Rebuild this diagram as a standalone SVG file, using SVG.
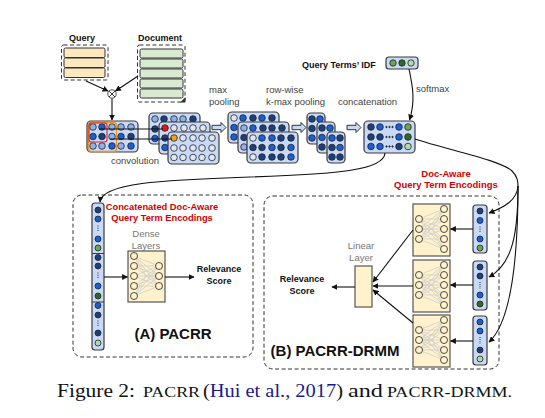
<svg xmlns="http://www.w3.org/2000/svg" xmlns:xlink="http://www.w3.org/1999/xlink" width="545" height="418" viewBox="0 0 545 418">
<style>
text{font-family:"Liberation Sans",Arial,sans-serif}
.lb{font-size:9px;font-weight:bold;fill:#111}
.gr{font-size:9.5px;fill:#444}
.gl{font-size:9.5px;fill:#777}
.red{font-size:9.3px;font-weight:bold;fill:#d40000}
.big{font-size:15px;font-weight:bold;fill:#111}
.cap{font-family:"Liberation Serif","Times New Roman",serif;font-size:18px;fill:#111}
.box{fill:#c9daf8;stroke:#3a3a3a;stroke-width:1.2}
.dash{fill:none;stroke:#333;stroke-width:1;stroke-dasharray:4,2.5}
.nb{fill:#fff2cc;stroke:#555;stroke-width:1.2}
circle{stroke:#222;stroke-width:0.8}
.cd{fill:#1c3f7e}.cb{fill:#1a5fd6}.cl{fill:#8fb1ea}.cp{fill:#dde7f8}
.g1{fill:#6aa84f}.g2{fill:#2f6b1c}.g3{fill:#b6d7a8}
.rd{fill:#ee1111}.or{fill:#f4a018}
.conn{fill:none;stroke:#111;stroke-width:1.1}
.blk{fill:#c9daf8;stroke:#333;stroke-width:1}
.dot{fill:#222;stroke:none}
</style>
<defs>
<marker id="ah" viewBox="0 0 10 10" refX="9" refY="5" markerWidth="6" markerHeight="6" markerUnits="userSpaceOnUse" orient="auto"><path d="M0,0 L10,5 L0,10 z" fill="#111"/></marker>
<g id="net" fill="none" stroke="#cdcdcd" stroke-width="0.8">
<path d="M6,5L31,15M6,5L31,25M6,5L31,35M6,15L31,15M6,15L31,25M6,15L31,35M6,25L31,15M6,25L31,25M6,25L31,35M6,35L31,15M6,35L31,25M6,35L31,35M6,45L31,15M6,45L31,25M6,45L31,35M6,5L18,25M6,45L18,25M18,25L31,25"/>
<circle cx="6" cy="5" r="3.5" stroke="#c8c8c8" fill="#fff2cc"/><circle cx="6" cy="15" r="3.5" stroke="#c8c8c8" fill="#fff2cc"/><circle cx="6" cy="25" r="3.5" stroke="#c8c8c8" fill="#fff2cc"/><circle cx="6" cy="35" r="3.5" stroke="#c8c8c8" fill="#fff2cc"/><circle cx="6" cy="45" r="3.5" stroke="#c8c8c8" fill="#fff2cc"/>
<circle cx="31" cy="15" r="3.5" stroke="#c8c8c8" fill="#fff2cc"/><circle cx="31" cy="25" r="3.5" stroke="#c8c8c8" fill="#fff2cc"/><circle cx="31" cy="35" r="3.5" stroke="#c8c8c8" fill="#fff2cc"/>
</g>
<polygon id="barrow" points="0,-2.2 9,-2.2 9,-5 14,0 9,5 9,2.2 0,2.2"/>
</defs>

<g id="query">
<text class="lb" x="82" y="41" text-anchor="middle">Query</text>
<rect class="dash" x="61.5" y="45" width="46.5" height="35" rx="2"/>
<rect x="64" y="48" width="41" height="9.5" fill="#fde9bf" stroke="#333" stroke-width="1" rx="1.5"/>
<rect x="64" y="58" width="41" height="9.5" fill="#fde9bf" stroke="#333" stroke-width="1" rx="1.5"/>
<rect x="64" y="68" width="41" height="9.5" fill="#fde9bf" stroke="#333" stroke-width="1" rx="1.5"/>
</g>

<g id="document">
<text class="lb" x="160" y="41" text-anchor="middle">Document</text>
<rect class="dash" x="137.5" y="45" width="47.5" height="57" rx="2"/>
<rect x="140" y="49" width="43" height="9" fill="#d9ead3" stroke="#333" stroke-width="1" rx="1.5"/>
<rect x="140" y="59" width="43" height="9" fill="#d9ead3" stroke="#333" stroke-width="1" rx="1.5"/>
<rect x="140" y="69" width="43" height="9" fill="#d9ead3" stroke="#333" stroke-width="1" rx="1.5"/>
<rect x="140" y="79" width="43" height="9" fill="#d9ead3" stroke="#333" stroke-width="1" rx="1.5"/>
<rect x="140" y="89" width="43" height="9" fill="#d9ead3" stroke="#333" stroke-width="1" rx="1.5"/>
<polygon points="180,102.5 185.5,97 185.5,102.5" fill="#333"/>
</g>

<g id="product">
<circle cx="112" cy="94" r="4.2" fill="#fff" stroke="#222" stroke-width="0.9"/>
<path d="M109,91L115,97M115,91L109,97" stroke="#222" stroke-width="0.9"/>
</g>

<g id="interaction-matrix">
<rect class="box" x="87" y="121" width="51" height="31" rx="4"/>
<circle class="cl" cx="93" cy="127" r="3.3"/><circle class="cb" cx="102" cy="127" r="3.3"/><circle class="cl" cx="112" cy="127" r="3.3"/><circle class="cl" cx="121" cy="127" r="3.3"/><circle class="cl" cx="131" cy="127" r="3.3"/>
<circle class="cb" cx="93" cy="136.5" r="3.3"/><circle class="cd" cx="102" cy="136.5" r="3.3"/><circle class="cl" cx="112" cy="136.5" r="3.3"/><circle class="cb" cx="121" cy="136.5" r="3.3"/><circle class="cd" cx="131" cy="136.5" r="3.3"/>
<circle class="cl" cx="93" cy="146" r="3.3"/><circle class="cl" cx="102" cy="146" r="3.3"/><circle class="cb" cx="112" cy="146" r="3.3"/><circle class="cl" cx="121" cy="146" r="3.3"/><circle class="cb" cx="131" cy="146" r="3.3"/>
<rect x="88.5" y="122.5" width="28" height="29" rx="3" fill="none" stroke="#f0961a" stroke-width="1.3"/>
<rect x="89" y="123" width="18" height="19" rx="2.5" fill="none" stroke="#e02020" stroke-width="1.1"/>
</g>

<g id="convolution">
<rect class="box" x="149" y="113" width="51" height="31" rx="4"/>
<circle class="cl" cx="155" cy="119" r="3.3"/><circle class="cd" cx="164" cy="119" r="3.3"/><circle class="cl" cx="174" cy="119" r="3.3"/><circle class="cl" cx="183" cy="119" r="3.3"/><circle class="cd" cx="193" cy="119" r="3.3"/>
<circle class="cd" cx="155" cy="129" r="3.3"/><circle class="cb" cx="155" cy="138.5" r="3.3"/>
<rect class="box" x="159" y="122" width="51" height="32" rx="4"/>
<circle class="rd" cx="165" cy="128" r="3.3"/><circle class="cp" cx="174" cy="128" r="3.3"/><circle class="cp" cx="184" cy="128" r="3.3"/><circle class="cp" cx="193" cy="128" r="3.3"/><circle class="cp" cx="203" cy="128" r="3.3"/>
<circle class="cd" cx="165" cy="138" r="3.3"/><circle class="cb" cx="165" cy="147.5" r="3.3"/>
<rect class="box" x="168" y="132" width="51" height="32" rx="4"/>
<circle class="or" cx="174" cy="138" r="3.3"/><circle class="cp" cx="183" cy="138" r="3.3"/><circle class="cp" cx="193" cy="138" r="3.3"/><circle class="cp" cx="202" cy="138" r="3.3"/><circle class="cp" cx="212" cy="138" r="3.3"/>
<circle class="cp" cx="174" cy="148" r="3.3"/><circle class="cp" cx="183" cy="148" r="3.3"/><circle class="cp" cx="193" cy="148" r="3.3"/><circle class="cp" cx="202" cy="148" r="3.3"/><circle class="cp" cx="212" cy="148" r="3.3"/>
<circle class="cp" cx="174" cy="157.5" r="3.3"/><circle class="cp" cx="183" cy="157.5" r="3.3"/><circle class="cp" cx="193" cy="157.5" r="3.3"/><circle class="cp" cx="202" cy="157.5" r="3.3"/><circle class="cp" cx="212" cy="157.5" r="3.3"/>
<text class="gr" x="135" y="164" text-anchor="middle">convolution</text>
</g>

<g id="max-pooling">
<text class="gr" x="209" y="93">max</text>
<text class="gr" x="209" y="105">pooling</text>
<rect class="box" x="228" y="112" width="51" height="31" rx="4"/>
<circle class="cp" cx="234" cy="118" r="3.3"/><circle class="cb" cx="243" cy="118" r="3.3"/><circle class="cd" cx="253" cy="118" r="3.3"/><circle class="cb" cx="262" cy="118" r="3.3"/><circle class="cd" cx="272" cy="118" r="3.3"/>
<circle class="cb" cx="234" cy="127.5" r="3.3"/><circle class="cb" cx="234" cy="137" r="3.3"/>
<rect class="box" x="238" y="122" width="51" height="31" rx="4"/>
<circle class="cl" cx="244" cy="128" r="3.3"/><circle class="cb" cx="253" cy="128" r="3.3"/><circle class="cd" cx="263" cy="128" r="3.3"/><circle class="cd" cx="272" cy="128" r="3.3"/><circle class="cd" cx="282" cy="128" r="3.3"/>
<circle class="cd" cx="244" cy="137.5" r="3.3"/><circle class="cl" cx="244" cy="147" r="3.3"/>
<rect class="box" x="247" y="132" width="51" height="31" rx="4"/>
<circle class="cp" cx="253" cy="138" r="3.3"/><circle class="cb" cx="262" cy="138" r="3.3"/><circle class="cb" cx="272" cy="138" r="3.3"/><circle class="cd" cx="281" cy="138" r="3.3"/><circle class="cd" cx="291" cy="138" r="3.3"/>
<circle class="cd" cx="253" cy="147.5" r="3.3"/><circle class="cd" cx="262" cy="147.5" r="3.3"/><circle class="cb" cx="272" cy="147.5" r="3.3"/><circle class="cd" cx="281" cy="147.5" r="3.3"/><circle class="cb" cx="291" cy="147.5" r="3.3"/>
<circle class="cp" cx="253" cy="157" r="3.3"/><circle class="cd" cx="262" cy="157" r="3.3"/><circle class="cd" cx="272" cy="157" r="3.3"/><circle class="cd" cx="281" cy="157" r="3.3"/><circle class="cb" cx="291" cy="157" r="3.3"/>
</g>

<g id="kmax-pooling">
<text class="gr" x="266" y="93">row-wise</text>
<text class="gr" x="266" y="105">k-max pooling</text>
<rect class="box" x="307" y="113" width="18" height="31" rx="4"/>
<circle class="cd" cx="312" cy="119" r="3.3"/><circle class="cb" cx="320" cy="119" r="3.3"/>
<circle class="cd" cx="312" cy="128.5" r="3.3"/><circle class="cb" cx="312" cy="138" r="3.3"/>
<rect class="box" x="317" y="122" width="18" height="31" rx="4"/>
<circle class="cd" cx="322" cy="128" r="3.3"/><circle class="cb" cx="330" cy="128" r="3.3"/>
<circle class="cb" cx="322" cy="137.5" r="3.3"/><circle class="cd" cx="322" cy="147" r="3.3"/>
<rect class="box" x="327" y="132" width="18" height="31" rx="4"/>
<circle class="cb" cx="332" cy="138" r="3.3"/><circle class="cd" cx="340" cy="138" r="3.3"/>
<circle class="cd" cx="332" cy="147.5" r="3.3"/><circle class="cb" cx="340" cy="147.5" r="3.3"/>
<circle class="cd" cx="332" cy="157" r="3.3"/><circle class="cd" cx="340" cy="157" r="3.3"/>
</g>

<g id="concatenation">
<text class="gr" x="338" y="105">concatenation</text>
<rect class="box" x="364" y="121" width="51" height="32" rx="4"/>
<circle class="cd" cx="371" cy="127" r="3.3"/><circle class="cb" cx="380" cy="127" r="3.3"/><circle class="cb" cx="399" cy="127" r="3.3"/><circle class="g1" cx="408" cy="127" r="3.3"/>
<circle class="cd" cx="371" cy="137" r="3.3"/><circle class="cd" cx="380" cy="137" r="3.3"/><circle class="cb" cx="399" cy="137" r="3.3"/><circle class="g2" cx="408" cy="137" r="3.3"/>
<circle class="cb" cx="371" cy="146.5" r="3.3"/><circle class="cb" cx="380" cy="146.5" r="3.3"/><circle class="cd" cx="399" cy="146.5" r="3.3"/><circle class="g3" cx="408" cy="146.5" r="3.3"/>
<g class="dot"><circle cx="386.5" cy="127" r="0.7"/><circle cx="389.5" cy="127" r="0.7"/><circle cx="392.5" cy="127" r="0.7"/><circle cx="386.5" cy="137" r="0.7"/><circle cx="389.5" cy="137" r="0.7"/><circle cx="392.5" cy="137" r="0.7"/><circle cx="386.5" cy="146.5" r="0.7"/><circle cx="389.5" cy="146.5" r="0.7"/><circle cx="392.5" cy="146.5" r="0.7"/></g>
</g>

<g id="idf">
<text class="lb" x="302" y="68">Query Terms’ IDF</text>
<rect class="box" x="386" y="57" width="32" height="12" rx="3"/>
<circle class="g1" cx="393" cy="63" r="3.2"/><circle class="g2" cx="402" cy="63" r="3.2"/><circle class="g3" cx="411" cy="63" r="3.2"/>
<text class="gr" x="416" y="92">softmax</text>
</g>

<g id="pacrr">
<rect class="dash" x="73" y="195" width="180" height="162" rx="9"/>
<rect class="box" x="92" y="203" width="12" height="147" rx="3"/>
<path d="M92,253.5H104M92,302H104" stroke="#3a3a3a" stroke-width="1"/>
<circle class="cd" cx="98" cy="210" r="3"/><circle class="cb" cx="98" cy="219" r="3"/><circle class="cb" cx="98" cy="239" r="3"/><circle class="g1" cx="98" cy="248" r="3"/>
<circle class="cd" cx="98" cy="257.5" r="3"/><circle class="cd" cx="98" cy="266" r="3"/><circle class="cb" cx="98" cy="286" r="3"/><circle class="g2" cx="98" cy="296" r="3"/>
<circle class="cb" cx="98" cy="305.5" r="3"/><circle class="cd" cx="98" cy="315" r="3"/><circle class="cd" cx="98" cy="333" r="3"/><circle class="g3" cx="98" cy="343" r="3"/>
<path d="M98,225.5V231.5M98,272.5V279M98,320.5V327" stroke="#222" stroke-width="1" stroke-dasharray="1,1.2"/>
<text class="red" x="162" y="210" text-anchor="middle">Concatenated Doc-Aware</text>
<text class="red" x="162" y="221" text-anchor="middle">Query Term Encodings</text>
<text class="gl" x="146" y="237" text-anchor="middle">Dense</text>
<text class="gl" x="146" y="248.5" text-anchor="middle">Layers</text>
<rect class="nb" x="128" y="251" width="37" height="51"/>
<use xlink:href="#net" href="#net" transform="translate(128,251)"/>
<text class="lb" x="219" y="272" text-anchor="middle">Relevance</text>
<text class="lb" x="219" y="284" text-anchor="middle">Score</text>
<text class="big" x="173" y="338.5" text-anchor="middle">(A) PACRR</text>
</g>

<g id="pacrr-drmm">
<rect class="dash" x="264" y="196" width="235" height="173" rx="9"/>
<text class="red" x="446" y="176.5" text-anchor="middle" style="font-size:9.5px">Doc-Aware</text>
<text class="red" x="446" y="187.5" text-anchor="middle" style="font-size:9.5px">Query Term Encodings</text>
<rect class="nb" x="413" y="204" width="37" height="52"/>
<use xlink:href="#net" href="#net" transform="translate(450,204) scale(-1,1)"/>
<rect class="nb" x="413" y="260" width="37" height="52"/>
<use xlink:href="#net" href="#net" transform="translate(450,260) scale(-1,1)"/>
<rect class="nb" x="413" y="315" width="37" height="52"/>
<use xlink:href="#net" href="#net" transform="translate(450,315) scale(-1,1)"/>
<rect class="box" x="473" y="205" width="14" height="48" rx="3"/>
<circle class="cd" cx="480" cy="211" r="3"/><circle class="cb" cx="480" cy="220.5" r="3"/><circle class="cb" cx="480" cy="239" r="3"/><circle class="g1" cx="480" cy="248" r="3"/>
<rect class="box" x="473" y="261" width="14" height="49" rx="3"/>
<circle class="cd" cx="480" cy="267" r="3"/><circle class="cd" cx="480" cy="276" r="3"/><circle class="cb" cx="480" cy="295" r="3"/><circle class="g2" cx="480" cy="304" r="3"/>
<rect class="box" x="473" y="316" width="14" height="49" rx="3"/>
<circle class="cb" cx="480" cy="322" r="3"/><circle class="cb" cx="480" cy="331" r="3"/><circle class="cd" cx="480" cy="350" r="3"/><circle class="g3" cx="480" cy="359" r="3"/>
<path d="M480,226.5V233M480,282V289M480,337V344" stroke="#222" stroke-width="1" stroke-dasharray="1,1.2"/>
<text class="gl" x="361" y="249" text-anchor="middle">Linear</text>
<text class="gl" x="361" y="261" text-anchor="middle">Layer</text>
<rect class="nb" x="355" y="266" width="17" height="41"/>
<text class="lb" x="302" y="282" text-anchor="middle">Relevance</text>
<text class="lb" x="302" y="294" text-anchor="middle">Score</text>
<text class="big" x="335" y="355.5" text-anchor="middle">(B) PACRR-DRMM</text>
</g>

<g id="connectors">
<path class="conn" d="M86,81L108,91" marker-end="url(#ah)"/>
<path class="conn" d="M138,76L115.5,91" marker-end="url(#ah)"/>
<path class="conn" d="M112,98.5V120" marker-end="url(#ah)"/>
<path d="M99,129H163M110,139H172" stroke="#111" stroke-width="1"/>
<use xlink:href="#barrow" href="#barrow" class="blk" transform="translate(212,127.5)"/>
<use xlink:href="#barrow" href="#barrow" class="blk" transform="translate(292,127.5)"/>
<use xlink:href="#barrow" href="#barrow" class="blk" transform="translate(347,127.5)"/>
<path class="conn" d="M409,69C412,84 416,100 409.5,120" marker-end="url(#ah)"/>
<path class="conn" d="M385,153C384,170 340,174 250,177C160,180 102,183 100,202" marker-end="url(#ah)"/>
<path class="conn" d="M415,139C448,150 500,160 512,171C518,177 518,182 518,187"/>
<path class="conn" d="M518,186C517,200 505,207 489,213" marker-end="url(#ah)"/>
<path class="conn" d="M518,186C518,232 513,264 489,277" marker-end="url(#ah)"/>
<path class="conn" d="M518,186C518,262 511,322 489,342" marker-end="url(#ah)"/>
<path class="conn" d="M104,277H127.5" marker-end="url(#ah)"/>
<path class="conn" d="M165,277H194" marker-end="url(#ah)"/>
<path class="conn" d="M473,229H450.5" marker-end="url(#ah)"/>
<path class="conn" d="M473,285H450.5" marker-end="url(#ah)"/>
<path class="conn" d="M473,341H450.5" marker-end="url(#ah)"/>
<path class="conn" d="M413,230L373,282" marker-end="url(#ah)"/>
<path class="conn" d="M413,286H373" marker-end="url(#ah)"/>
<path class="conn" d="M413,323L373,290" marker-end="url(#ah)"/>
<path class="conn" d="M355,287H332" marker-end="url(#ah)"/>
</g>

<g id="caption">
<text class="cap" x="57" y="397" textLength="78" lengthAdjust="spacingAndGlyphs">Figure 2:</text>
<text class="cap" x="143" y="397" style="font-size:14.5px" textLength="57" lengthAdjust="spacingAndGlyphs">PACRR</text>
<text class="cap" x="203" y="397" textLength="140" lengthAdjust="spacingAndGlyphs">(<tspan fill="#1a1a8e">Hui et al., 2017</tspan>)</text>
<text class="cap" x="348" y="397" textLength="35" lengthAdjust="spacingAndGlyphs">and</text>
<text class="cap" x="387" y="397" style="font-size:14.5px" textLength="125" lengthAdjust="spacingAndGlyphs">PACRR-DRMM.</text>
</g>
</svg>
